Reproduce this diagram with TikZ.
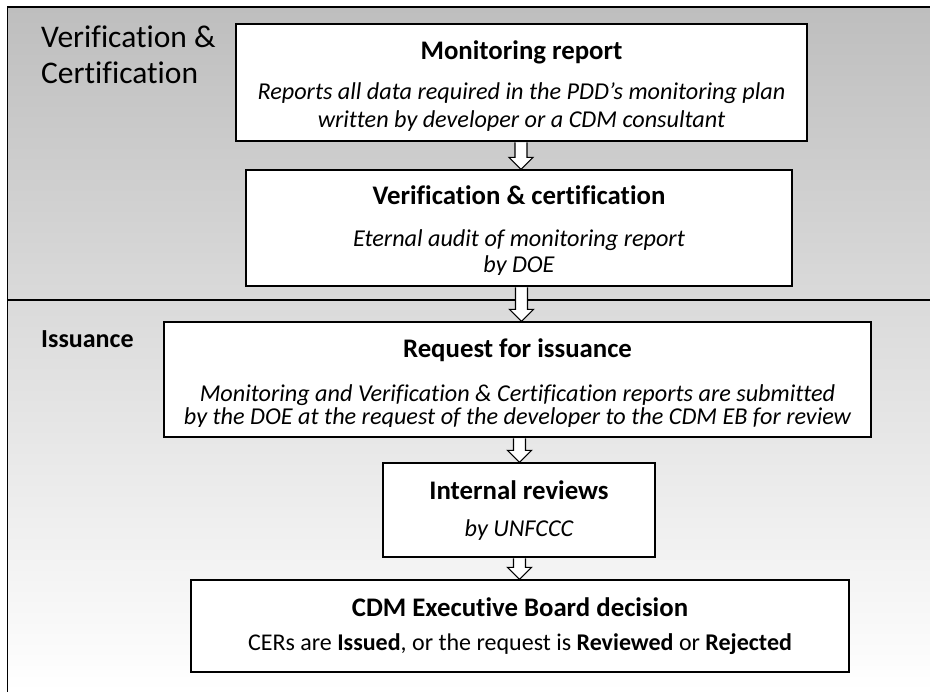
\documentclass[tikz,border=0pt]{standalone}
\usepackage{fontspec}
\setmainfont{Carlito}[Ligatures={NoCommon}]
\usetikzlibrary{calc}
\definecolor{gtop}{RGB}{190,190,190}
\definecolor{gmid}{RGB}{218,218,218}
\definecolor{gbot}{RGB}{255,255,255}
\tikzset{
  box/.style={draw=black, line width=1.3pt, fill=white, inner sep=0pt, rectangle},
  frameline/.style={line width=1.6pt, black},
  ttl/.style={anchor=base, inner sep=0pt, font=\fontsize{26.8}{30}\selectfont\bfseries},
  dsc/.style={anchor=base, inner sep=0pt, font=\fontsize{24.2}{28}\selectfont\itshape},
  plain/.style={anchor=base, inner sep=0pt, font=\fontsize{24}{28}\selectfont},
  lbl/.style={anchor=base west, inner sep=0pt, font=\fontsize{31.5}{35}\selectfont},
  lblb/.style={anchor=base west, inner sep=0pt, font=\fontsize{26}{30}\selectfont\bfseries},
  hollow/.style={draw=black, line width=1.1pt, fill=white, line join=miter},
}
\newcommand{\hollowarrow}[3]{%
  \draw[hollow] let \p1=(#1.south), \p2=(#2.north) in
    (#3pt-6pt,\y1-0.7pt) -- (#3pt-6pt,\y2+12pt) -- (#3pt-12pt,\y2+12pt) -- (#3pt,\y2)
    -- (#3pt+12pt,\y2+12pt) -- (#3pt+6pt,\y2+12pt) -- (#3pt+6pt,\y1-0.7pt);}
\begin{document}
\begin{tikzpicture}[x=1pt,y=-1pt]
\useasboundingbox (0,0) rectangle (930,692);
% panels
\shade[top color=gtop, bottom color=gmid] (7.5,7) rectangle (930,300);
\shade[top color=gmid, bottom color=gbot] (7.5,300) rectangle (930,692);
\draw[frameline] (7.5,692) -- (7.5,7) -- (930,7);
\draw[frameline] (7.5,300) -- (930,300);
% section labels
\node[lbl] (lab1) at (41,47.5) {Verification \&};
\node[lbl] (lab2) at (41,84) {Certification};
\node[lblb] (lab3) at (41,348) {Issuance};
% boxes
\node[box, minimum width=571pt, minimum height=117pt] (mon) at (521.5,82.5) {};
\node[box, minimum width=546pt, minimum height=116pt] (ver) at (519,228) {};
\node[box, minimum width=707pt, minimum height=115pt] (req) at (517.5,379.5) {};
\node[box, minimum width=272pt, minimum height=94pt] (int) at (519,510) {};
\node[box, minimum width=658pt, minimum height=92pt] (cdm) at (520,626) {};
% box texts
\begin{scope}
  \clip (236,24) rectangle (807,130.5);
  \node[ttl] (monT) at (521.5,60) {Monitoring report};
  \node[dsc] (monA) at (521.5,100) {Reports all data required in the PDD’s monitoring plan};
  \node[dsc] (monB) at (521.5,128) {written by developer or a CDM consultant};
\end{scope}
\begin{scope}
  \clip (246,170) rectangle (792,275);
  \node[ttl] (verT) at (519,205) {Verification \& certification};
  \node[dsc] (verA) at (519,246.5) {Eternal audit of monitoring report};
  \node[dsc] (verB) at (519,273) {by DOE};
\end{scope}
\begin{scope}
  \clip (164,322) rectangle (871,427);
  \node[ttl] (reqT) at (517.5,358) {Request for issuance};
  \node[dsc] (reqA) at (517.5,402) {Monitoring and Verification \& Certification reports are submitted};
  \node[dsc] (reqB) at (517.5,425) {by the DOE at the request of the developer to the CDM EB for review};
\end{scope}
\node[ttl] (intT) at (519,500) {Internal reviews};
\node[dsc] (intA) at (519,536.5) {by UNFCCC};
\node[ttl] (cdmT) at (520,616.5) {CDM Executive Board decision};
\node[plain] (cdmA) at (520,650) {CERs are \textbf{Issued}, or the request is \textbf{Reviewed} or \textbf{Rejected}};
% arrows
\hollowarrow{mon}{ver}{521}
\hollowarrow{ver}{req}{521.5}
\hollowarrow{req}{int}{519.5}
\hollowarrow{int}{cdm}{519.5}
\end{tikzpicture}
\end{document}
